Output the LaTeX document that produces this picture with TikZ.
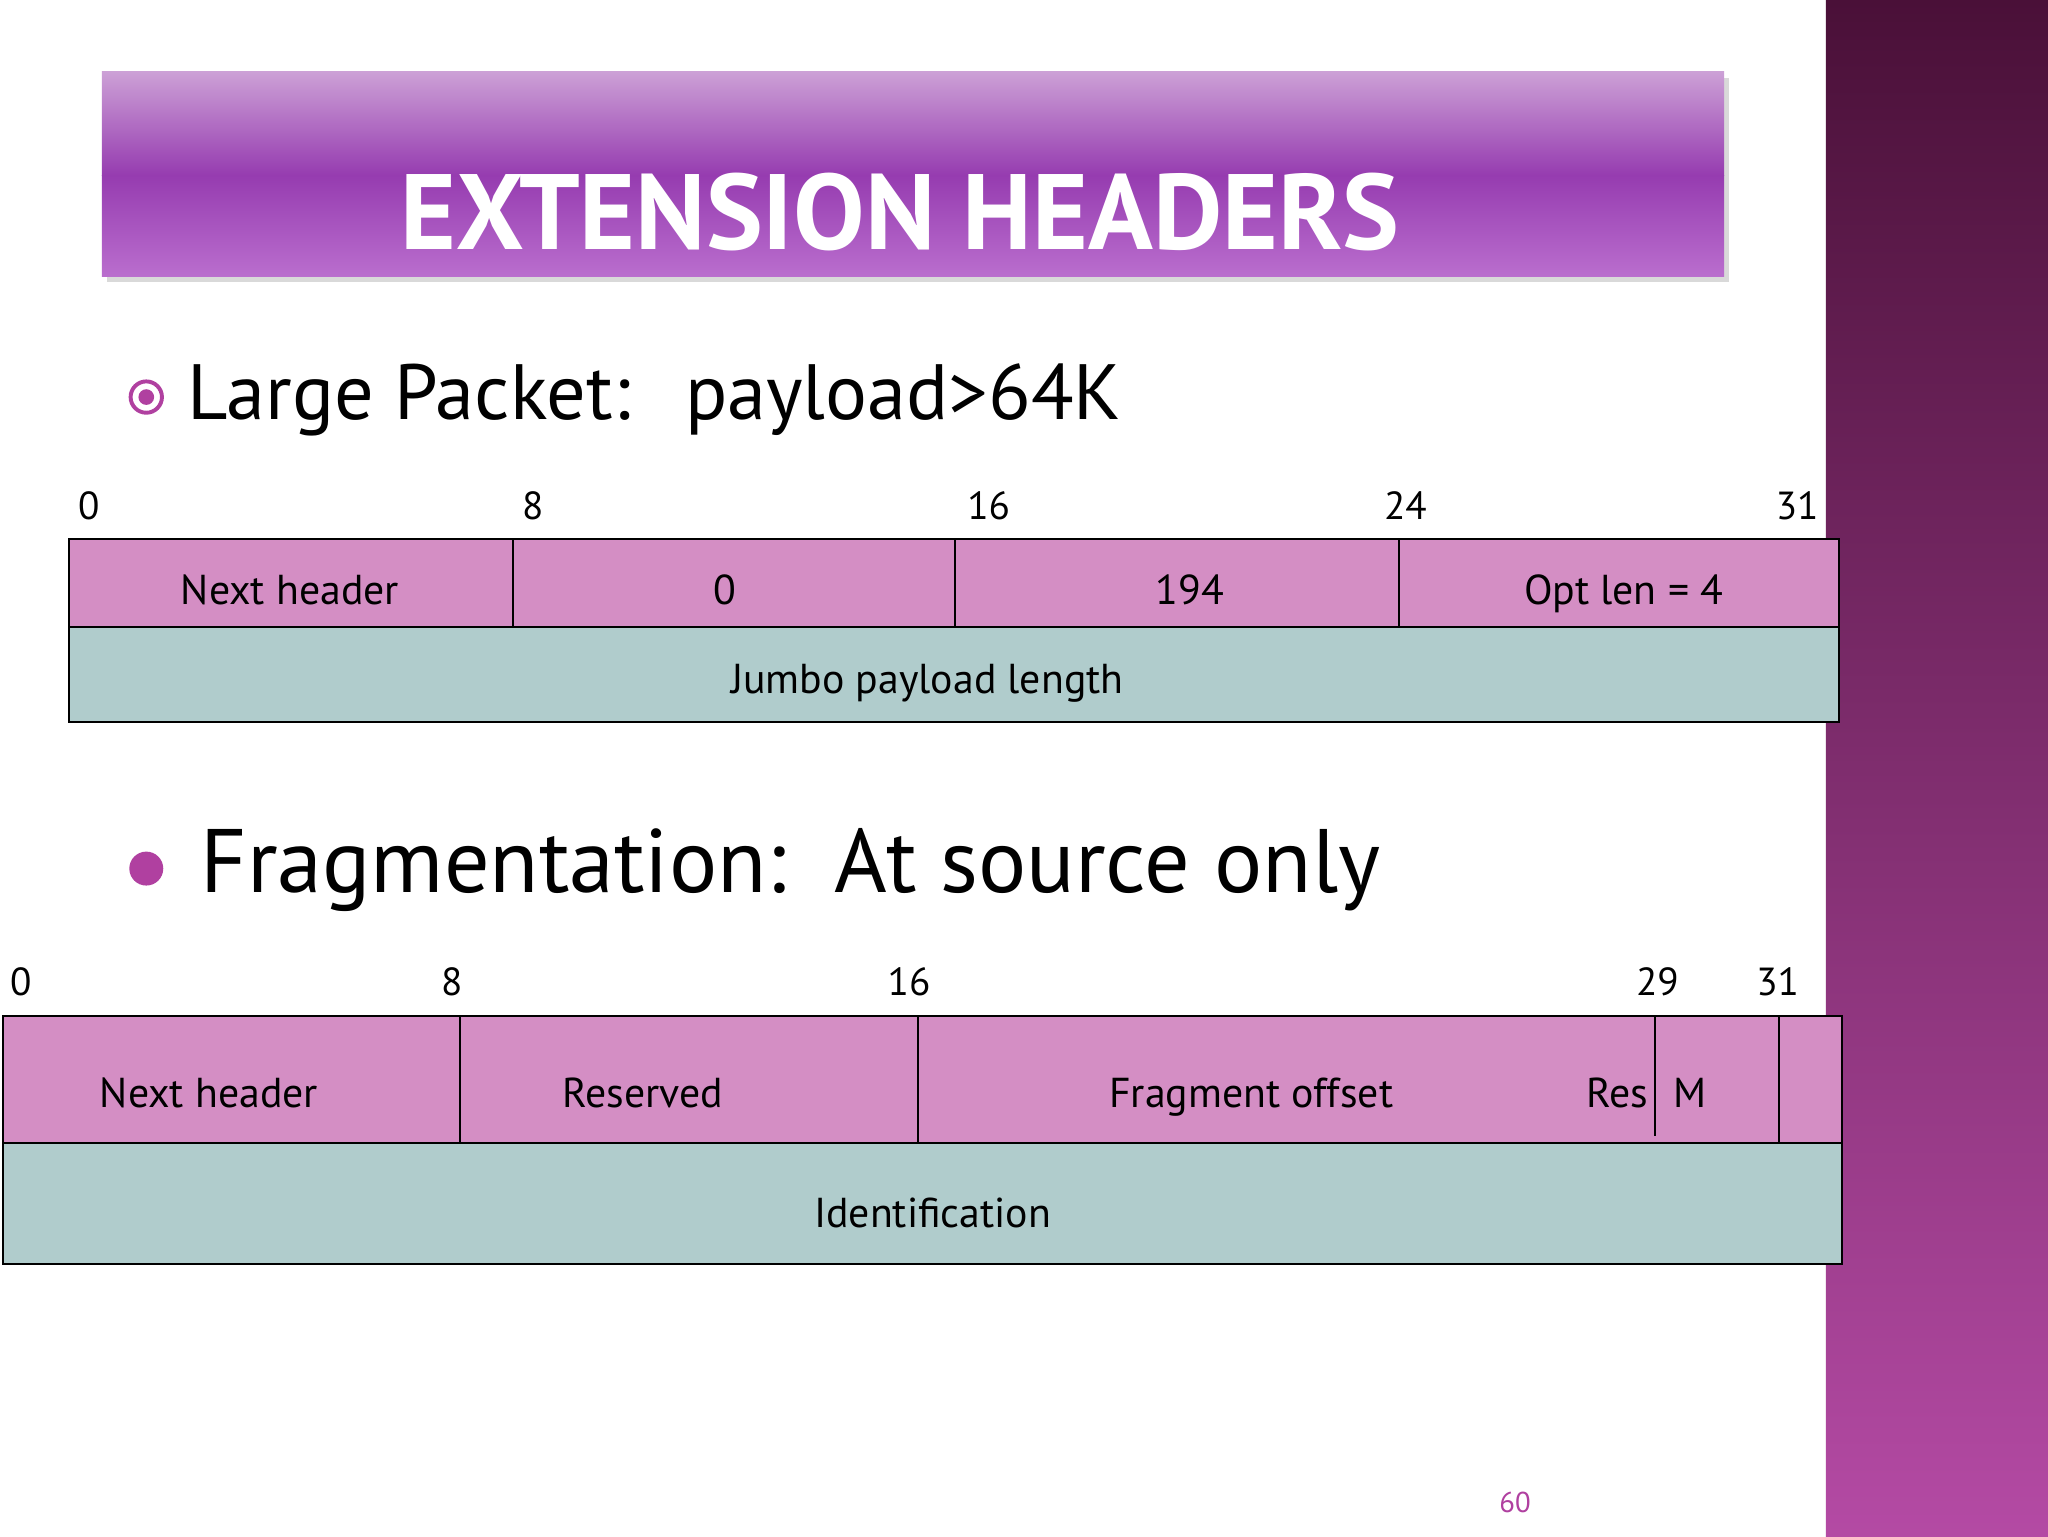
\documentclass[tikz,border=0pt]{standalone}
\usepackage{fontspec}
\setmainfont{PT Sans}
\begin{document}
\begin{tikzpicture}[x=1pt,y=-1pt,
  pinkf/.style={fill=pinkc,draw=black,line width=1.5pt},
  tealf/.style={fill=tealc,draw=black,line width=1.5pt},
  fld/.style={font=\fontsize{32}{34}\selectfont,anchor=base},
  num/.style={font=\fontsize{30}{32}\selectfont,anchor=center},
  div/.style={draw=black,line width=1.5pt}]
\definecolor{pinkc}{HTML}{D48EC4}
\definecolor{tealc}{HTML}{B0CCCC}
\definecolor{mag}{HTML}{B040A0}
\useasboundingbox (0,0) rectangle (1568,1176);
\fill[white] (0,0) rectangle (1568,1176);
\shade[top color={rgb,255:red,74;green,16;blue,56}, bottom color={rgb,255:red,180;green,74;blue,164}] (1398,0) rectangle (1568,1176);
% title banner
\fill[black!15] (82,60) rectangle (1324,216);
\shade[top color={rgb,255:red,204;green,160;blue,214}, bottom color={rgb,255:red,150;green,60;blue,176}] (78,55) rectangle (1320,134);
\shade[top color={rgb,255:red,150;green,60;blue,176}, bottom color={rgb,255:red,186;green,110;blue,206}] (78,134) rectangle (1320,212);
\node[text=white,font=\fontsize{82}{84}\selectfont\bfseries] (title) at (689,162) {EXTENSION HEADERS};
% bullet 1
\draw[mag,line width=3pt] (112,304) circle (12);
\fill[mag] (112,304) circle (6);
\node[anchor=base west,font=\fontsize{60}{62}\selectfont] (b1) at (140,321) {Large Packet:\ \ \,payload>64K};
% numbers row 1
\node[num] (n0) at (68,387) {0};
\node[num] (n8) at (408,387) {8};
\node[num] (n16) at (757,387) {16};
\node[num] (n24) at (1076,387) {24};
\node[num] (n31) at (1376,387) {31};
\draw[pinkf] (53,413) rectangle (1408,480);
\draw[tealf] (53,480) rectangle (1408,553);
\draw[div] (393,413) -- (393,480);
\draw[div] (731,413) -- (731,480);
\draw[div] (1071,413) -- (1071,480);
\node[fld] (f1) at (222,463) {Next header};
\node[fld] (f2) at (555,463) {0};
\node[fld] (f3) at (911,463) {194};
\node[fld] (f4) at (1243,463) {Opt len = 4};
\node[fld] (f5) at (710,531) {Jumbo payload length};
% bullet 2
\fill[mag] (112,665) circle (13);
\node[anchor=base west,font=\fontsize{69}{70}\selectfont] (b2) at (150,683) {Fragmentation:\ \ At source only};
\node[num] (m0) at (16,752) {0};
\node[num] (m8) at (346,752) {8};
\node[num] (m16) at (696,752) {16};
\node[num] (m29) at (1269,752) {29};
\node[num] (m31) at (1361,752) {31};
\draw[pinkf] (2,778) rectangle (1410,875);
\draw[tealf] (2,875) rectangle (1410,968);
\draw[div] (352,778) -- (352,875);
\draw[div] (703,778) -- (703,875);
\draw[div] (1362,778) -- (1362,875);
\draw[div] (1267,778) -- (1267,870);
\node[fld] (g1) at (160,848) {Next header};
\node[fld] (g2) at (492,848) {Reserved};
\node[fld] (g3) at (958,848) {Fragment offset};
\node[fld] (g4) at (1238,848) {Res};
\node[fld] (g5) at (1294,848) {M};
\node[fld] (g6) at (714,940) {Identification};
\node[text=mag,font=\fontsize{22}{24}\selectfont] (pg) at (1160,1150) {60};
\end{tikzpicture}
\end{document}
